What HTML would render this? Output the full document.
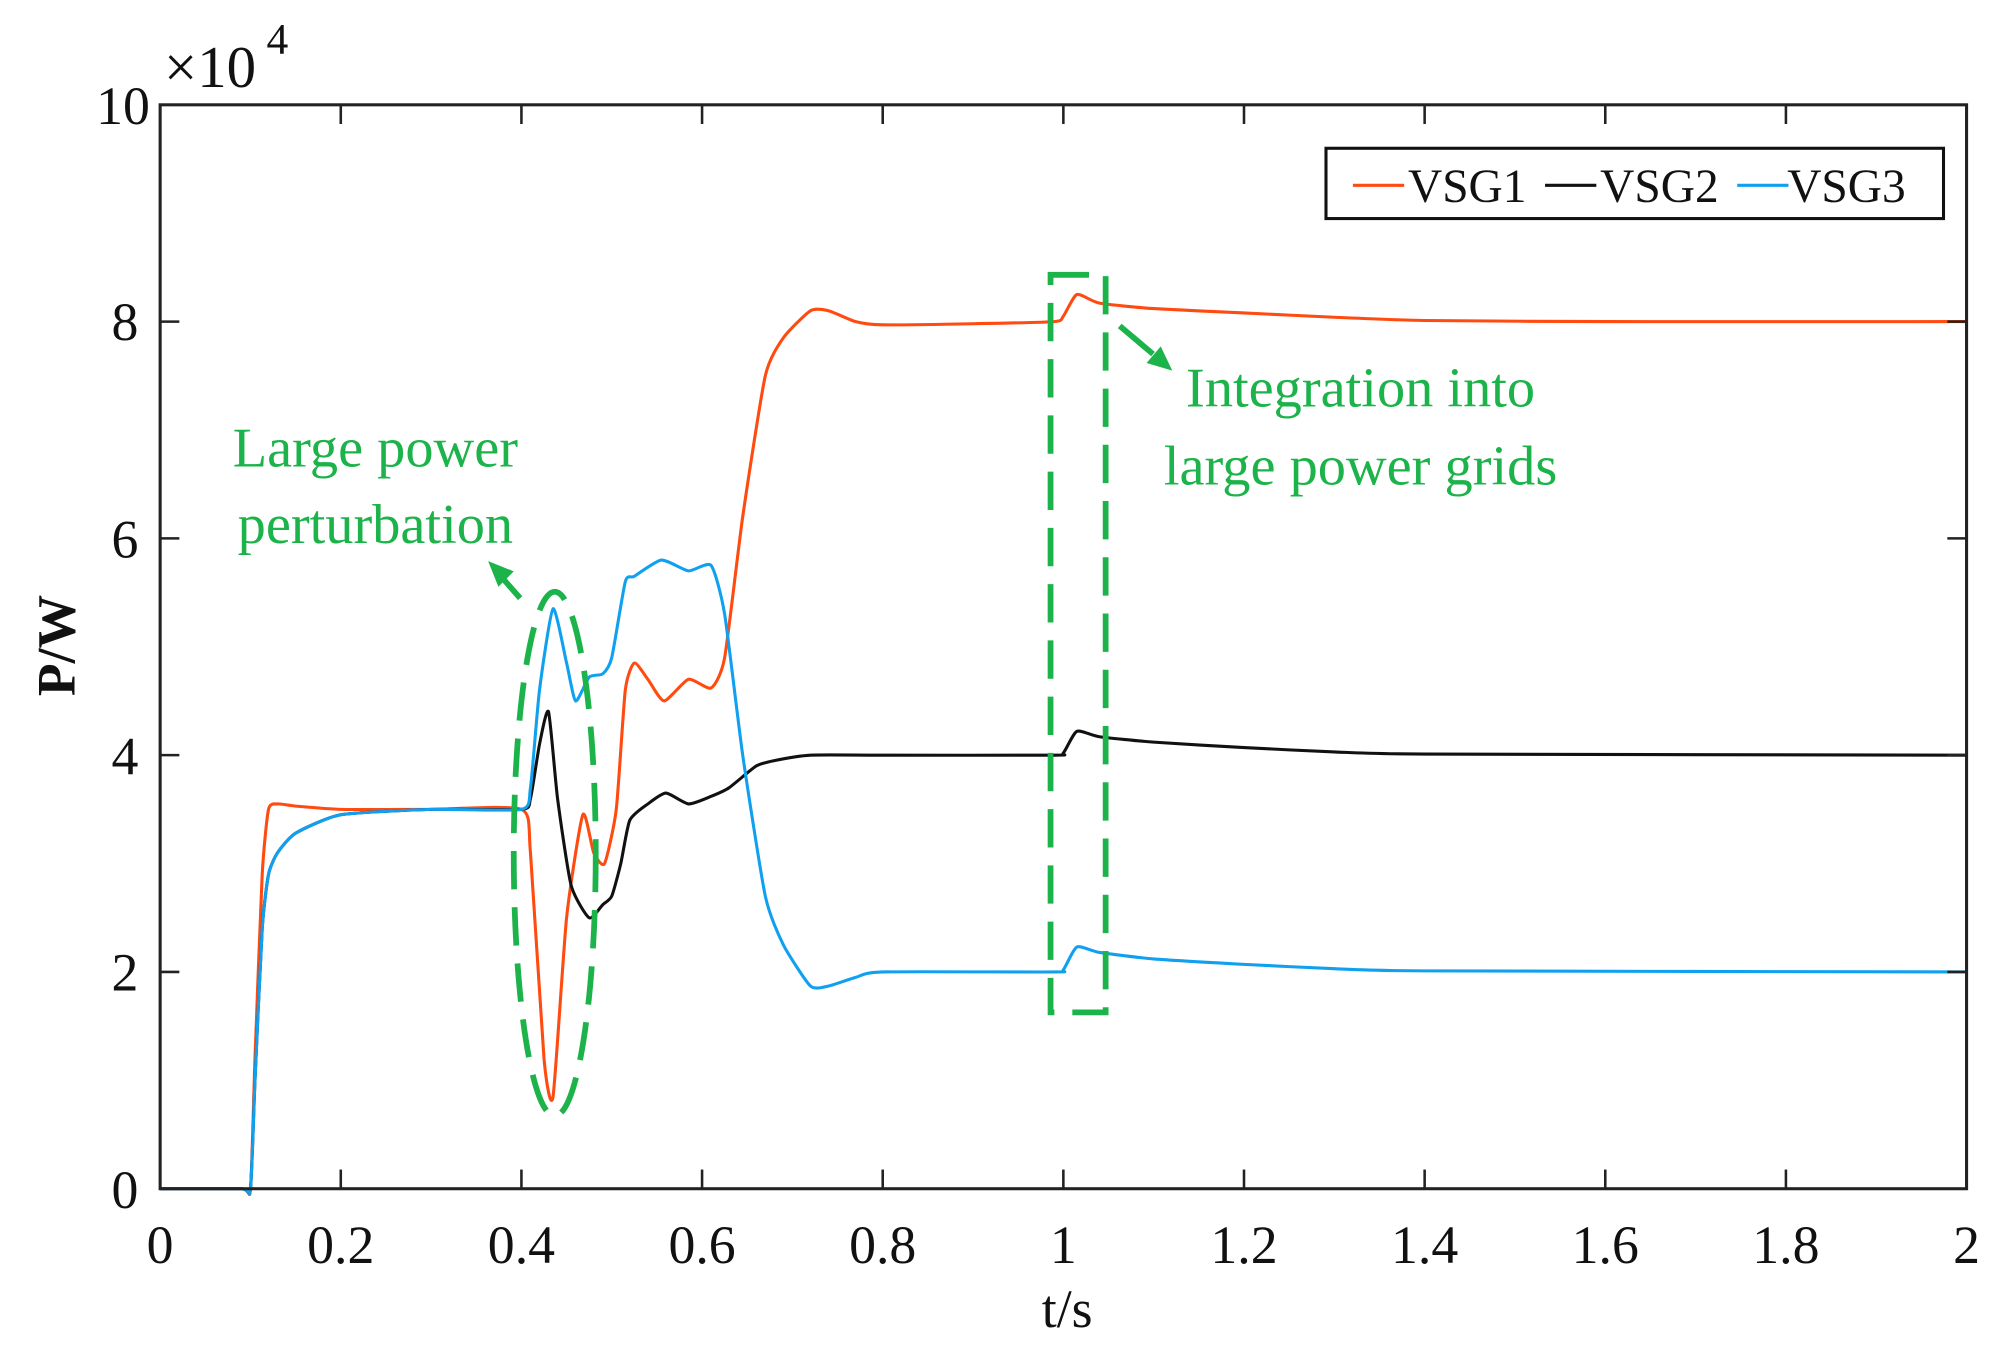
<!DOCTYPE html>
<html><head><meta charset="utf-8"><style>
html,body{margin:0;padding:0;background:#fff;}
svg{display:block;}
text{font-family:"Liberation Serif",serif;fill:#111;}
</style></head><body>
<svg id="s" width="2005" height="1360" viewBox="0 0 1565 1064" preserveAspectRatio="none" xmlns="http://www.w3.org/2000/svg">
<rect x="0" y="0" width="1565" height="1064" fill="#fff"/>
<g id="curves" fill="none" stroke-width="2.4" stroke-linejoin="round"></g>
<rect x="125" y="82" width="1410" height="848" fill="none" stroke="#222" stroke-width="2.4"/>
<g id="ticks" stroke="#222" stroke-width="2"></g>
<g font-size="42" text-anchor="end">
<text x="108" y="945">0</text><text x="108" y="775">2</text><text x="108" y="606">4</text>
<text x="108" y="436">6</text><text x="108" y="266">8</text><text x="117" y="97">10</text>
</g>
<text x="128" y="68" font-size="46">×10</text><text x="208" y="42" font-size="34">4</text>
<g font-size="42" text-anchor="middle">
<text x="125" y="988">0</text><text x="266" y="988">0.2</text><text x="407" y="988">0.4</text>
<text x="548" y="988">0.6</text><text x="689" y="988">0.8</text><text x="830" y="988">1</text>
<text x="971" y="988">1.2</text><text x="1112" y="988">1.4</text><text x="1253" y="988">1.6</text>
<text x="1394" y="988">1.8</text><text x="1535" y="988">2</text>
<text x="833" y="1038">t/s</text>
</g>
<text x="0" y="0" font-size="42" font-weight="bold" text-anchor="middle" transform="translate(58,505) rotate(-90)">P/W</text>
<rect x="1035" y="116" width="482" height="55" fill="#fff" stroke="#111" stroke-width="2.4"/>
<line x1="1056" y1="145" x2="1096" y2="145" stroke="#ff4a10" stroke-width="2.4"/>
<text x="1099" y="158" font-size="37">VSG1</text>
<line x1="1206" y1="145" x2="1246" y2="145" stroke="#111" stroke-width="2.4"/>
<text x="1249" y="158" font-size="37">VSG2</text>
<line x1="1356" y1="145" x2="1396" y2="145" stroke="#10a0f0" stroke-width="2.4"/>
<text x="1395" y="158" font-size="37">VSG3</text>
<g stroke="#1cb34a" fill="none" stroke-width="4.5" stroke-dasharray="30,14">
<ellipse cx="433" cy="668" rx="32" ry="205"/>
<rect x="820" y="215" width="43" height="577"/>
</g>
<g stroke="#1cb34a" stroke-width="4.5">
<line x1="406" y1="468" x2="392" y2="452"/>
<line x1="874" y1="255" x2="900" y2="277"/>
</g>
<polygon points="381,439 401,447 389,459" fill="#1cb34a"/>
<polygon points="915,290 895,284 906,271" fill="#1cb34a"/>
<g font-size="44" text-anchor="middle">
<text x="293" y="365" style="fill:#1cb34a">Large power</text>
<text x="293" y="425" style="fill:#1cb34a">perturbation</text>
<text x="1062" y="318" style="fill:#1cb34a">Integration into</text>
<text x="1062" y="379" style="fill:#1cb34a">large power grids</text>
</g>
</svg>
<script>
var X=function(t){return 125+705*t},Y=function(v){return 930-84.8*v};
var ns="http://www.w3.org/2000/svg";
var tk=document.getElementById('ticks'),s='';
for(var i=1;i<10;i++){var x=X(i*0.2);s+='<line x1="'+x+'" y1="930" x2="'+x+'" y2="915"/><line x1="'+x+'" y1="82" x2="'+x+'" y2="97"/>';}
for(var j=2;j<10;j+=2){var y=Y(j);s+='<line x1="125" y1="'+y+'" x2="140" y2="'+y+'"/><line x1="1535" y1="'+y+'" x2="1520" y2="'+y+'"/>';}
tk.innerHTML=s;
function path(p){var pts=p.map(function(a){return [X(a[0]),Y(a[1])]});
var d='M'+pts[0][0]+','+pts[0][1],k=10;
for(var i=0;i<pts.length-1;i++){var p0=pts[i>0?i-1:i],p1=pts[i],p2=pts[i+1],p3=pts[i+2<pts.length?i+2:i+1];
var c1x=p1[0]+(p2[0]-p0[0])/k,c1y=p1[1]+(p2[1]-p0[1])/k,c2x=p2[0]-(p3[0]-p1[0])/k,c2y=p2[1]-(p3[1]-p1[1])/k;
d+=' C'+c1x+','+c1y+' '+c2x+','+c2y+' '+p2[0]+','+p2[1];}return d;}
var base=[[0,0],[0.09,0],[0.1,0],[0.105,1.0],[0.113,2.4],[0.12,2.9],[0.13,3.1],[0.15,3.28],[0.2,3.45],[0.3,3.5],[0.4,3.5]];
var v1=[[0,0],[0.09,0],[0.1,0],[0.105,1.2],[0.113,2.9],[0.12,3.5],[0.13,3.55],[0.15,3.53],[0.2,3.5],[0.3,3.5],[0.4,3.5],[0.41,3.1],[0.425,1.2],[0.435,0.85],[0.45,2.5],[0.468,3.45],[0.48,3.1],[0.492,3.0],[0.505,3.5],[0.515,4.6],[0.525,4.85],[0.54,4.7],[0.558,4.5],[0.585,4.7],[0.61,4.62],[0.625,4.9],[0.645,6.2],[0.67,7.5],[0.69,7.85],[0.72,8.1],[0.74,8.1],[0.77,8.0],[0.8,7.97],[0.9,7.98],[0.99,8.0],[1.0,8.05],[1.015,8.25],[1.04,8.17],[1.1,8.12],[1.2,8.08],[1.3,8.04],[1.4,8.01],[1.6,8.0],[2.0,8.0]];
var v2=base.concat([[0.41,3.6],[0.42,4.1],[0.43,4.4],[0.44,3.6],[0.455,2.8],[0.475,2.5],[0.49,2.62],[0.5,2.7],[0.51,3.0],[0.52,3.4],[0.54,3.55],[0.56,3.65],[0.585,3.55],[0.61,3.62],[0.63,3.7],[0.66,3.9],[0.68,3.95],[0.72,4.0],[0.8,4.0],[0.99,4.0],[1.0,4.02],[1.015,4.22],[1.04,4.17],[1.1,4.12],[1.2,4.07],[1.3,4.03],[1.4,4.01],[2.0,4.0]]);
var v3=base.concat([[0.41,3.7],[0.42,4.6],[0.435,5.35],[0.45,4.85],[0.46,4.5],[0.475,4.72],[0.49,4.75],[0.5,4.9],[0.515,5.6],[0.525,5.65],[0.555,5.8],[0.585,5.7],[0.61,5.75],[0.625,5.3],[0.645,4.0],[0.67,2.7],[0.69,2.25],[0.72,1.87],[0.74,1.87],[0.77,1.95],[0.8,2.0],[0.99,2.0],[1.0,2.02],[1.015,2.23],[1.04,2.18],[1.1,2.12],[1.2,2.07],[1.3,2.03],[1.4,2.01],[2.0,2.0]]);
var g=document.getElementById('curves');
[[v1,'#ff4a10'],[v2,'#111'],[v3,'#10a0f0']].forEach(function(a){var e=document.createElementNS(ns,'path');e.setAttribute('d',path(a[0]));e.setAttribute('stroke',a[1]);g.appendChild(e);});
</script>
</body></html>
